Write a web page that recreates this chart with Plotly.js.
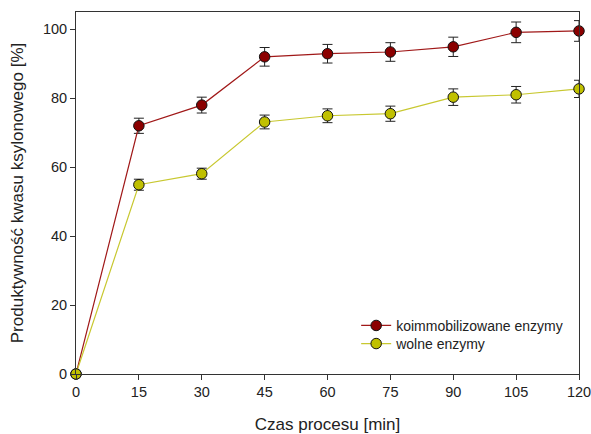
<!DOCTYPE html>
<html><head><meta charset="utf-8">
<script src="https://cdn.plot.ly/plotly-3.0.1.min.js"></script>
<style>body{margin:0;background:#fff}#c{width:591px;height:434px}</style>
</head><body><div id="c"></div>
<script>
const czas = [0, 15, 30, 45, 60, 75, 90, 105, 120];
const koimmobilizowane = [0, 72.0, 78.0, 92.0, 92.9, 93.4, 94.9, 99.1, 99.5];
const koimmobilizowaneErr = [0, 2.2, 2.3, 2.7, 2.7, 2.7, 2.8, 3.0, 3.0];
const wolne = [0, 54.9, 58.1, 73.1, 74.9, 75.5, 80.3, 81.0, 82.7];
const wolneErr = [0, 1.6, 1.6, 2.0, 2.0, 2.2, 2.4, 2.4, 2.5];
const xTicks = [0, 15, 30, 45, 60, 75, 90, 105, 120];
const yTicks = [0, 20, 40, 60, 80, 100];

const font = {family: 'Liberation Sans, Arial, sans-serif', color: '#222'};
function trace(name, y, err, lineColor, markColor, legend) {
  return {
    x: czas, y: y, name: name, type: 'scatter', mode: 'lines+markers', cliponaxis: false,
    legend: legend,
    line: {color: lineColor, width: 1.2},
    marker: {size: 10.5, color: markColor, line: {color: '#111', width: 1}},
    error_y: {type: 'data', array: err, visible: true, color: '#222', thickness: 1, width: 5}
  };
}
const data = [
  trace('koimmobilizowane enzymy', koimmobilizowane, koimmobilizowaneErr, '#a01818', '#8b0000', 'legend'),
  trace('wolne enzymy', wolne, wolneErr, '#c8c830', '#c0c000', 'legend2')
];
const legBase = {xanchor: 'left', yanchor: 'middle', bgcolor: 'rgba(0,0,0,0)',
                 font: Object.assign({size: 14}, font), itemwidth: 30, borderwidth: 0};
const layout = {
  width: 591, height: 434,
  margin: {l: 76, r: 12, t: 12, b: 60},
  paper_bgcolor: '#fff', plot_bgcolor: '#fff',
  font: Object.assign({size: 14}, font),
  showlegend: true,
  legend: Object.assign({x: 0.557, y: 0.133}, legBase),
  legend2: Object.assign({x: 0.557, y: 0.083}, legBase),
  xaxis: {range: [0, 120], tickvals: xTicks, ticktext: xTicks.map(String), ticks: 'outside', ticklen: 5,
          tickcolor: '#333', showline: true, mirror: true, linecolor: '#333', linewidth: 1,
          showgrid: false, zeroline: false, tickfont: Object.assign({size: 14.5}, font),
          ticklabeloverflow: 'allow', automargin: false,
          title: {text: 'Czas procesu [min]', font: Object.assign({size: 17}, font), standoff: 20}},
  yaxis: {range: [0, 105], tickvals: yTicks, ticktext: yTicks.map(String), ticks: 'outside', ticklen: 5,
          tickcolor: '#333', showline: true, mirror: true, linecolor: '#333', linewidth: 1,
          showgrid: false, zeroline: false, tickfont: Object.assign({size: 14.5}, font),
          ticklabeloverflow: 'allow', automargin: false,
          title: {text: 'Produktywność kwasu ksylonowego [%]', font: Object.assign({size: 17}, font), standoff: 14}}
};
Plotly.newPlot('c', data, layout, {displayModeBar: false, staticPlot: true});
</script></body></html>
